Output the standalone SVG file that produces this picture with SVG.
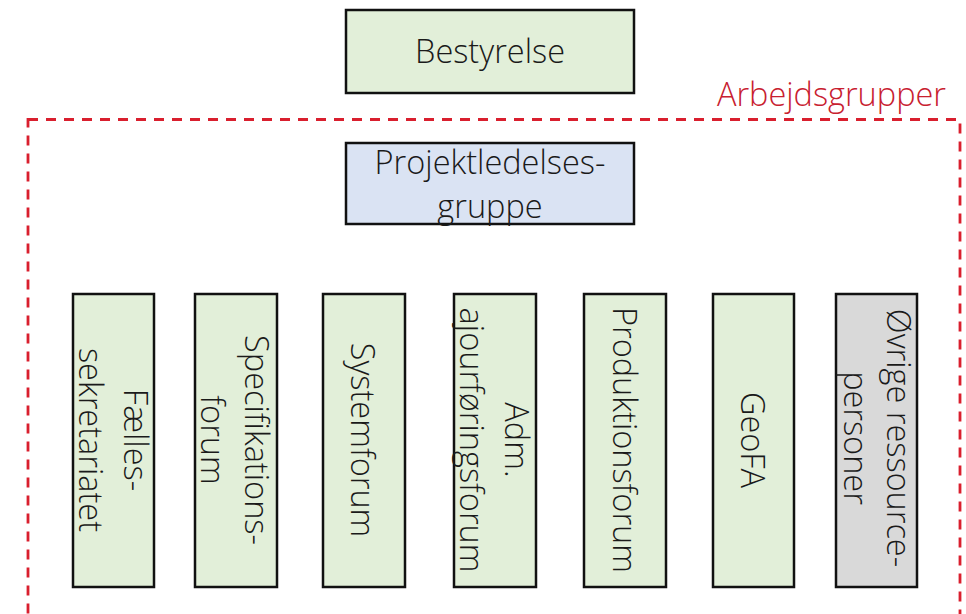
<svg xmlns="http://www.w3.org/2000/svg" width="966" height="614" viewBox="0 0 966 614">
<style>
  text { font-family: "Open Sans", "Liberation Sans", sans-serif; font-size: 32.5px; font-weight: 300; fill: #1a1a1a; }
  .box { stroke: #111111; stroke-width: 2.5; }
  .green { fill: #e2efd9; }
  .blue { fill: #dae3f3; }
  .grey { fill: #d9d9d9; }
  .vt { text-anchor: middle; }
  .frame { fill: none; stroke: #d91f2e; stroke-width: 2.8; stroke-dasharray: 10 8; }
  .frame-label { fill: #c8202f; }
</style>
<rect width="966" height="614" fill="#ffffff"/>

<g id="arbejdsgrupper">
  <rect class="frame" x="28" y="119.5" width="932" height="530"/>
  <text class="frame-label" x="946" y="106" text-anchor="end">Arbejdsgrupper</text>
</g>

<g id="connectors"></g>

<g id="bestyrelse">
  <rect class="box green" x="346" y="10" width="288" height="83"/>
  <text x="490" y="63" text-anchor="middle">Bestyrelse</text>
</g>

<g id="projektledelsesgruppe">
  <rect class="box blue" x="346" y="143" width="288" height="81"/>
  <text x="490" y="174" text-anchor="middle">Projektledelses-</text>
  <text x="490" y="218" text-anchor="middle">gruppe</text>
</g>

<g id="faellessekretariatet">
  <rect class="box green" x="73" y="294" width="81" height="293"/>
  <g transform="translate(113.5,440) rotate(90)">
    <text class="vt" x="0" y="-10">Fælles-</text>
    <text class="vt" x="0" y="35">sekretariatet</text>
  </g>
</g>

<g id="specifikationsforum">
  <rect class="box green" x="195" y="294" width="82" height="293"/>
  <g transform="translate(236,440) rotate(90)">
    <text class="vt" x="0" y="-9">Specifikations-</text>
    <text class="vt" x="0" y="35">forum</text>
  </g>
</g>

<g id="systemforum">
  <rect class="box green" x="323" y="294" width="82" height="293"/>
  <g transform="translate(364,440) rotate(90)">
    <text class="vt" x="0" y="13">Systemforum</text>
  </g>
</g>

<g id="adm-ajourfoeringsforum">
  <rect class="box green" x="454" y="294" width="82" height="293"/>
  <g transform="translate(495,440) rotate(90)">
    <text class="vt" x="0" y="-10">Adm.</text>
    <text class="vt" x="0" y="35">ajourføringsforum</text>
  </g>
</g>

<g id="produktionsforum">
  <rect class="box green" x="584" y="294" width="82" height="293"/>
  <g transform="translate(625,440) rotate(90)">
    <text class="vt" x="0" y="12">Produktionsforum</text>
  </g>
</g>

<g id="geofa">
  <rect class="box green" x="713" y="294" width="81" height="293"/>
  <g transform="translate(753.5,440) rotate(90)">
    <text class="vt" x="0" y="13">GeoFA</text>
  </g>
</g>

<g id="oevrige-ressourcepersoner">
  <rect class="box grey" x="836" y="294" width="81" height="293"/>
  <g transform="translate(876.5,438) rotate(90)">
    <text class="vt" x="0" y="-10">Øvrige ressource-</text>
    <text class="vt" x="0" y="33">personer</text>
  </g>
</g>
</svg>
